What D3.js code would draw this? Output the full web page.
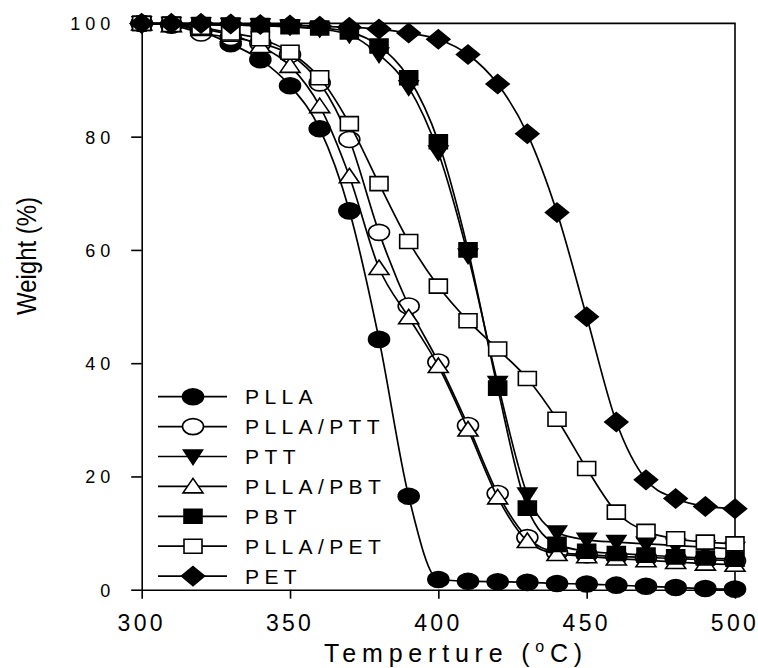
<!DOCTYPE html>
<html>
<head>
<meta charset="utf-8">
<script src="https://cdn.jsdelivr.net/npm/d3@7"></script>
<style>
  body { margin: 0; background: #fff; }
  svg { display: block; font-family: Arial, "Liberation Sans", sans-serif; }
</style>
</head>
<body>
<div id="chart"></div>
<script>
// temperature steps (x values)
const temps = [300, 310, 320, 330, 340, 350, 360, 370, 380, 390, 400, 410, 420, 430, 440, 450, 460, 470, 480, 490, 500];

// weight (%), one array per sample
const plla    = [100, 99.8, 98.6, 96.4, 93.6, 89.0, 81.4, 66.9, 44.2, 16.5, 1.8, 1.5, 1.4, 1.3, 1.1, 1.0, 0.8, 0.6, 0.4, 0.2, 0.1];
const pllaPtt = [100, 99.7, 98.3, 97.5, 96.5, 94.5, 89.5, 79.5, 63.1, 50.1, 40.2, 29.0, 17.0, 9.2, 6.6, 6.2, 5.9, 5.7, 5.5, 5.3, 5.1];
const ptt     = [100, 99.9, 99.8, 99.7, 99.6, 99.4, 99.0, 98.0, 94.5, 88.7, 77.2, 59.0, 36.5, 16.8, 10.1, 8.8, 8.4, 8.1, 7.8, 7.5, 7.2];
const pllaPbt = [100, 99.7, 99.0, 98.0, 96.0, 92.5, 85.4, 73.0, 56.8, 48.1, 39.5, 28.3, 16.3, 8.6, 6.3, 5.9, 5.5, 5.2, 4.9, 4.6, 4.4];
const pbt     = [100, 99.9, 99.8, 99.7, 99.6, 99.4, 99.2, 98.5, 96.0, 90.4, 79.1, 60.0, 35.6, 14.4, 8.0, 6.8, 6.4, 6.1, 5.8, 5.6, 5.4];
const pllaPet = [100, 99.8, 99.3, 98.3, 97.3, 94.9, 90.4, 82.3, 71.7, 61.5, 53.6, 47.5, 42.5, 37.3, 30.1, 21.4, 13.7, 10.3, 9.0, 8.4, 8.1];
const pet     = [100, 100, 100, 99.9, 99.8, 99.7, 99.5, 99.3, 99.0, 98.3, 97.2, 94.5, 89.3, 80.5, 66.6, 48.2, 29.6, 19.4, 16.1, 14.7, 14.3];

const seriesNames = ["PLLA", "PLLA/PTT", "PTT", "PLLA/PBT", "PBT", "PLLA/PET", "PET"];
const seriesValues = [plla, pllaPtt, ptt, pllaPbt, pbt, pllaPet, pet];
const seriesShapes = ["circle", "circle", "triDown", "triUp", "square", "square", "diamond"];
const seriesFilled = [true, false, true, false, true, false, true];

const xTicks = [300, 350, 400, 450, 500];
const yTicks = [0, 20, 40, 60, 80, 100];

const width = 758, height = 668;
const margin = { top: 23.4, right: 23, bottom: 78.3, left: 141.7 };

const svg = d3.select("#chart").append("svg")
    .attr("width", width)
    .attr("height", height);

const x = d3.scaleLinear().domain([300, 500]).range([margin.left, width - margin.right]);
const y = d3.scaleLinear().domain([0, 100]).range([height - margin.bottom, margin.top]);

// marker outline around (0,0)
const shapePath = (shape) => {
    if (shape === "circle") {
        const rx = 10.5, ry = 8;
        return `M${-rx},0A${rx},${ry} 0 1,0 ${rx},0A${rx},${ry} 0 1,0 ${-rx},0Z`;
    }
    if (shape === "square") return "M-9,-7H9V7H-9Z";
    if (shape === "triUp") return "M0,-8L10,6.5L-10,6.5Z";
    if (shape === "triDown") return "M0,8L9.5,-6.5L-9.5,-6.5Z";
    if (shape === "diamond") return "M0,-9.5L11.5,0L0,9.5L-11.5,0Z";
};

// frame (top and right)
svg.append("path")
    .attr("d", `M${x(300)},${y(100)}H${x(500)}V${y(0)}`)
    .attr("fill", "none")
    .attr("stroke", "#000")
    .attr("stroke-width", 1.6);

// axes
const xAxis = svg.append("g")
    .attr("transform", `translate(0,${y(0)})`)
    .call(d3.axisBottom(x).tickValues(xTicks).tickSize(9).tickSizeOuter(0).tickFormat(d3.format("d")));

const yAxis = svg.append("g")
    .attr("transform", `translate(${x(300)},0)`)
    .call(d3.axisLeft(y).tickValues(yTicks).tickSize(10.5).tickSizeOuter(0).tickFormat(d3.format("d")));

[xAxis, yAxis].forEach(ax => {
    ax.select(".domain").attr("stroke-width", 1.6);
    ax.selectAll(".tick line").attr("stroke-width", 1.6);
});

xAxis.selectAll("text")
    .attr("y", 0)
    .attr("dy", 0)
    .attr("transform", "translate(-0.5,41.5)")
    .style("font-size", "23px")
    .style("letter-spacing", "3.3px")
    .style("fill", "#000");

yAxis.selectAll("text")
    .attr("x", -26.5)
    .attr("dy", "0.36em")
    .style("font-size", "18px")
    .style("letter-spacing", "5px")
    .style("fill", "#000");

// lines and markers, series by series
const line = d3.line()
    .x((d, i) => x(temps[i]))
    .y(d => y(d))
    .curve(d3.curveMonotoneX);

seriesValues.forEach((vals, s) => {
    const g = svg.append("g");
    g.append("path")
        .attr("d", line(vals))
        .attr("fill", "none")
        .attr("stroke", "#000")
        .attr("stroke-width", 1.7);
    g.selectAll("path.mark")
        .data(vals)
        .enter()
        .append("path")
        .attr("class", "mark")
        .attr("d", shapePath(seriesShapes[s]))
        .attr("transform", (d, i) => `translate(${x(temps[i])},${y(d)})`)
        .attr("fill", seriesFilled[s] ? "#000" : "#fff")
        .attr("stroke", "#000")
        .attr("stroke-width", 1.6);
});

// legend
const legend = svg.append("g");
seriesNames.forEach((name, s) => {
    const ly = 396.7 + s * 29.9;
    legend.append("line")
        .attr("x1", 158).attr("x2", 227)
        .attr("y1", ly).attr("y2", ly)
        .attr("stroke", "#000")
        .attr("stroke-width", 1.7);
    legend.append("path")
        .attr("d", shapePath(seriesShapes[s]))
        .attr("transform", `translate(193,${ly})`)
        .attr("fill", seriesFilled[s] ? "#000" : "#fff")
        .attr("stroke", "#000")
        .attr("stroke-width", 1.6);
    legend.append("text")
        .attr("x", 245)
        .attr("y", ly)
        .attr("dy", "0.36em")
        .style("font-size", "21px")
        .style("letter-spacing", "5.4px")
        .text(name);
});

// axis titles
const xTitle = svg.append("text")
    .attr("x", 324)
    .attr("y", 662)
    .style("font-size", "25px")
    .style("letter-spacing", "5.8px");
xTitle.append("tspan").text("Temperture (");
xTitle.append("tspan").attr("dy", -10).style("font-size", "16px").text("o");
xTitle.append("tspan").attr("dy", 10).text("C)");

svg.append("text")
    .attr("transform", "translate(36,256) rotate(-90)")
    .attr("text-anchor", "middle")
    .attr("textLength", 118)
    .attr("lengthAdjust", "spacingAndGlyphs")
    .style("font-size", "27px")
    .text("Weight (%)");
</script>
</body>
</html>
